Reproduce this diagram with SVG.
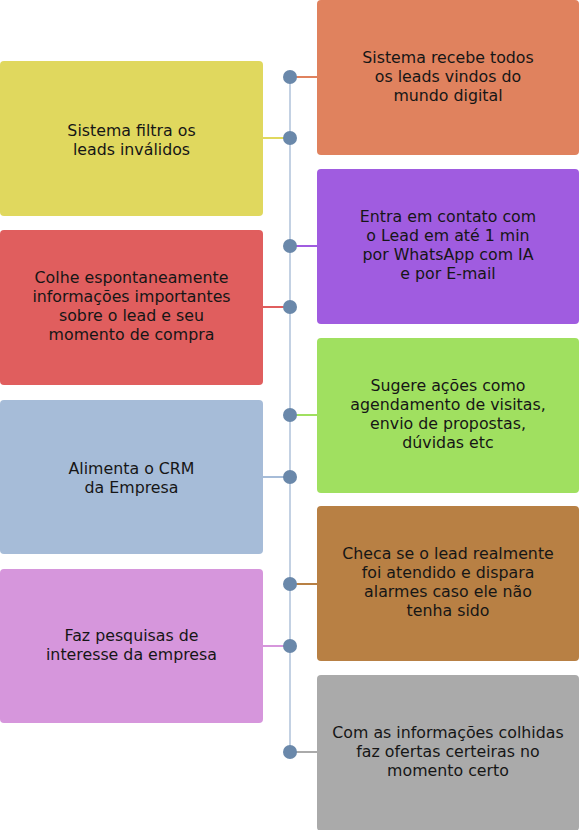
<svg xmlns="http://www.w3.org/2000/svg" width="580" height="830" viewBox="0 0 580 830">
<style>
.t{font-family:"DejaVu Sans","Liberation Sans",sans-serif;font-size:15.8px;fill:#161616;text-anchor:middle}
.c{stroke-width:2;fill:none}
.dot{fill:#6a88aa}
</style>
<rect width="580" height="830" fill="#ffffff"/>
<g id="connectors">
<line x1="290" y1="77" x2="290" y2="753" stroke="#c3d1e3" stroke-width="2"/>
<line class="c" x1="290" y1="77" x2="318" y2="77" stroke="#e0825e"/>
<line class="c" x1="262" y1="138" x2="290" y2="138" stroke="#e0d85e"/>
<line class="c" x1="290" y1="246" x2="318" y2="246" stroke="#a05ce0"/>
<line class="c" x1="262" y1="307" x2="290" y2="307" stroke="#e05e5e"/>
<line class="c" x1="290" y1="415" x2="318" y2="415" stroke="#a0e060"/>
<line class="c" x1="262" y1="477" x2="290" y2="477" stroke="#a6bcd8"/>
<line class="c" x1="290" y1="584" x2="318" y2="584" stroke="#b88044"/>
<line class="c" x1="262" y1="646" x2="290" y2="646" stroke="#d696dc"/>
<line class="c" x1="290" y1="752" x2="318" y2="752" stroke="#aaaaaa"/>
<circle class="dot" cx="290" cy="77" r="7"/>
<circle class="dot" cx="290" cy="138" r="7"/>
<circle class="dot" cx="290" cy="246" r="7"/>
<circle class="dot" cx="290" cy="307" r="7"/>
<circle class="dot" cx="290" cy="415" r="7"/>
<circle class="dot" cx="290" cy="477" r="7"/>
<circle class="dot" cx="290" cy="584" r="7"/>
<circle class="dot" cx="290" cy="646" r="7"/>
<circle class="dot" cx="290" cy="752" r="7"/>
</g>
<g id="n1">
<rect x="317" y="0" width="262" height="155" rx="4" fill="#e0825e"/>
<text class="t" x="448" y="63">Sistema recebe todos</text>
<text class="t" x="448" y="82">os leads vindos do</text>
<text class="t" x="448" y="101">mundo digital</text>
</g>
<g id="n2">
<rect x="0" y="61" width="263" height="155" rx="4" fill="#e0d85e"/>
<text class="t" x="131.5" y="136">Sistema filtra os</text>
<text class="t" x="131.5" y="155">leads inválidos</text>
</g>
<g id="n3">
<rect x="317" y="169" width="262" height="155" rx="4" fill="#a05ce0"/>
<text class="t" x="448" y="222">Entra em contato com</text>
<text class="t" x="448" y="241">o Lead em até 1 min</text>
<text class="t" x="448" y="260">por WhatsApp com IA</text>
<text class="t" x="448" y="279">e por E-mail</text>
</g>
<g id="n4">
<rect x="0" y="230" width="263" height="155" rx="4" fill="#e05e5e"/>
<text class="t" x="131.5" y="283">Colhe espontaneamente</text>
<text class="t" x="131.5" y="302">informações importantes</text>
<text class="t" x="131.5" y="321">sobre o lead e seu</text>
<text class="t" x="131.5" y="340">momento de compra</text>
</g>
<g id="n5">
<rect x="317" y="338" width="262" height="155" rx="4" fill="#a0e060"/>
<text class="t" x="448" y="391">Sugere ações como</text>
<text class="t" x="448" y="410">agendamento de visitas,</text>
<text class="t" x="448" y="429">envio de propostas,</text>
<text class="t" x="448" y="448">dúvidas etc</text>
</g>
<g id="n6">
<rect x="0" y="400" width="263" height="154" rx="4" fill="#a6bcd8"/>
<text class="t" x="131.5" y="474">Alimenta o CRM</text>
<text class="t" x="131.5" y="493">da Empresa</text>
</g>
<g id="n7">
<rect x="317" y="506" width="262" height="155" rx="4" fill="#b88044"/>
<text class="t" x="448" y="559">Checa se o lead realmente</text>
<text class="t" x="448" y="578">foi atendido e dispara</text>
<text class="t" x="448" y="597">alarmes caso ele não</text>
<text class="t" x="448" y="616">tenha sido</text>
</g>
<g id="n8">
<rect x="0" y="569" width="263" height="154" rx="4" fill="#d696dc"/>
<text class="t" x="131.5" y="641">Faz pesquisas de</text>
<text class="t" x="131.5" y="660">interesse da empresa</text>
</g>
<g id="n9">
<rect x="317" y="675" width="262" height="156" rx="4" fill="#aaaaaa"/>
<text class="t" x="448" y="738">Com as informações colhidas</text>
<text class="t" x="448" y="757">faz ofertas certeiras no</text>
<text class="t" x="448" y="776">momento certo</text>
</g>
</svg>
